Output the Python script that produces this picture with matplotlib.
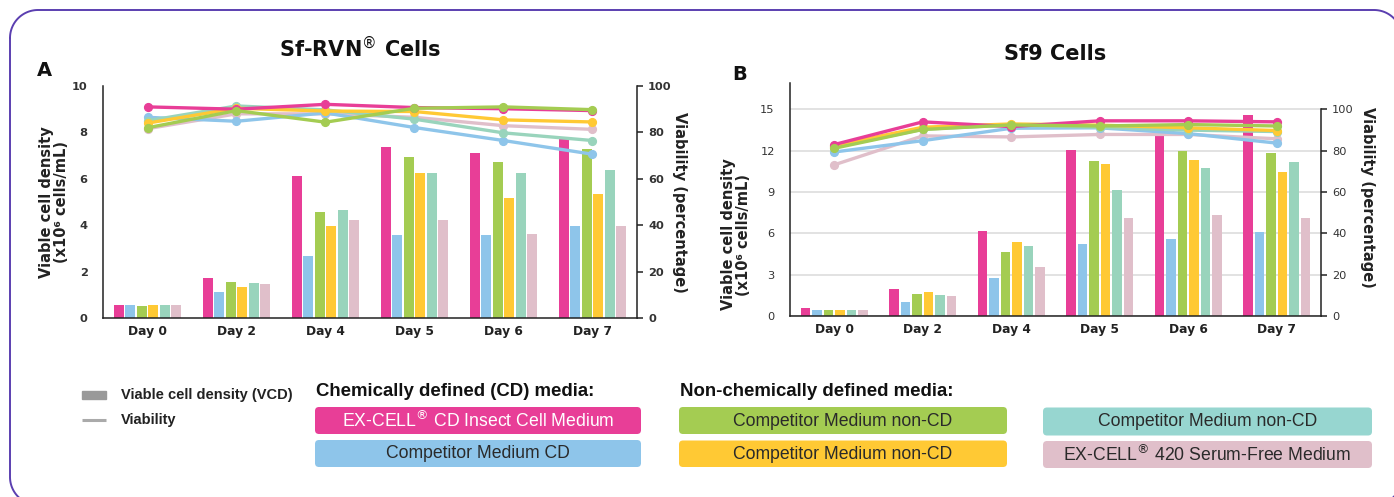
import matplotlib
matplotlib.use("Agg")
import matplotlib.pyplot as plt
import numpy as np
from matplotlib.patches import FancyBboxPatch, Rectangle

# ---------------- data ----------------
days = ['Day 0', 'Day 2', 'Day 4', 'Day 5', 'Day 6', 'Day 7']
series_names = ['EX-CELL$^{®}$ CD Insect Cell Medium', 'Competitor Medium CD',
                'Competitor Medium non-CD', 'Competitor Medium non-CD',
                'Competitor Medium non-CD', 'EX-CELL$^{®}$ 420 Serum-Free Medium']

# Panel A: Sf-RVN cells, viable cell density (x10^6 cells/mL)
a_vcd_pink = [0.55, 1.72, 6.13, 7.37, 7.10, 7.70]
a_vcd_blue = [0.55, 1.12, 2.68, 3.59, 3.57, 3.95]
a_vcd_green = [0.52, 1.56, 4.55, 6.92, 6.73, 7.29]
a_vcd_yellow = [0.55, 1.33, 3.96, 6.23, 5.18, 5.35]
a_vcd_teal = [0.55, 1.52, 4.65, 6.23, 6.23, 6.37]
a_vcd_mauve = [0.55, 1.45, 4.23, 4.23, 3.62, 3.95]
# Panel A viability (%)
a_via_pink = [91.0, 90.0, 92.1, 90.7, 90.2, 89.4]
a_via_blue = [86.5, 84.8, 88.4, 82.1, 76.5, 70.6]
a_via_green = [82.0, 89.4, 84.4, 90.4, 91.0, 89.8]
a_via_yellow = [84.0, 90.4, 89.2, 89.0, 85.4, 84.5]
a_via_teal = [85.0, 91.4, 89.7, 85.7, 79.8, 76.5]
a_via_mauve = [81.6, 88.0, 88.0, 86.5, 82.9, 81.3]

# Panel B: Sf9 cells
b_vcd_pink = [0.56, 1.95, 6.18, 12.02, 13.8, 14.6]
b_vcd_blue = [0.41, 1.00, 2.78, 5.22, 5.58, 6.07]
b_vcd_green = [0.46, 1.60, 4.63, 11.27, 11.97, 11.82]
b_vcd_yellow = [0.41, 1.73, 5.38, 11.07, 11.36, 10.46]
b_vcd_teal = [0.41, 1.51, 5.06, 9.18, 10.75, 11.21]
b_vcd_mauve = [0.46, 1.44, 3.58, 7.11, 7.35, 7.11]
b_via_pink = [83.0, 94.0, 91.7, 94.5, 94.5, 94.0]
b_via_blue = [79.4, 84.9, 90.9, 91.1, 88.3, 83.7]
b_via_green = [81.2, 90.3, 92.5, 92.0, 92.7, 92.0]
b_via_yellow = [82.5, 91.4, 93.0, 92.4, 91.1, 89.8]
b_via_teal = [81.7, 90.4, 92.5, 91.3, 90.0, 89.3]
b_via_mauve = [73.2, 87.2, 86.7, 87.9, 87.9, 85.8]

a_left_ticks = [0, 2, 4, 6, 8, 10]
a_right_ticks = [0, 20, 40, 60, 80, 100]
b_left_ticks = [0, 3, 6, 9, 12, 15]
b_right_ticks = [0, 20, 40, 60, 80, 100]

# ---------------- style ----------------
colors = ['#E83E97', '#8EC5EA', '#A4CC52', '#FFC934', '#99D4BC', '#E0BFCA']
box_colors = ['#E83E97', '#8EC5EA', '#A4CC52', '#FFC934', '#97D6D0', '#E0BFCA']
LEG_FONT = ['Liberation Sans', 'DejaVu Sans']
TXT = '#222222'

fig = plt.figure(figsize=(13.94, 4.97), dpi=100)

def panel(rect, vcd, via, ylim_l, lticks, ylim_r, rticks, grid, tick_bold, lab_y_l, lab_y_r, lab_x_l, lab_x_r):
    ax = fig.add_axes(rect)
    x = np.arange(len(days))
    slot, bw = 0.130, 0.112
    for i, vals in enumerate(vcd):
        ax.bar(x + (i - 2.5) * slot, vals, width=bw, color=colors[i], zorder=2)
    ax.set_xlim(-0.5, len(days) - 0.5)
    ax.set_ylim(*ylim_l)
    ax.set_yticks(lticks)
    ax.set_xticks(x)
    ax.set_xticklabels(days, fontsize=8.8, fontweight='bold', color=TXT)
    ax.tick_params(axis='x', length=0, pad=5)
    ax.tick_params(axis='y', length=0, pad=11, labelsize=8.2, labelcolor='#333333')
    for t in ax.get_yticklabels():
        t.set_fontweight('bold' if tick_bold else 'normal')
    for s in ['top', 'right']:
        ax.spines[s].set_visible(False)
    ax.spines['left'].set_color('#222222')
    ax.spines['bottom'].set_color('#222222')
    ax.spines['left'].set_linewidth(1.1)
    ax.spines['bottom'].set_linewidth(1.1)
    if grid:
        ax.yaxis.grid(True, color='#DDDDDD', linewidth=1.2, zorder=0)
        ax.set_axisbelow(True)
    ax.set_ylabel('Viable cell density\n(x10⁶ cells/mL)', fontsize=10.5, fontweight='bold',
                  color=TXT, linespacing=1.0)
    ax.yaxis.set_label_coords(lab_x_l, lab_y_l)

    ax2 = ax.twinx()
    order = [5, 1, 4, 3, 0, 2]
    for i in order:
        ax2.plot(x, via[i], color=colors[i], lw=2.4, marker='o', ms=5.6, zorder=3,
                 solid_capstyle='round')
    ax2.set_ylim(*ylim_r)
    ax2.set_yticks(rticks)
    ax2.tick_params(axis='y', length=4, width=1.1, color='#222222', pad=4, labelsize=8.2,
                    labelcolor='#333333')
    for t in ax2.get_yticklabels():
        t.set_fontweight('bold' if tick_bold else 'normal')
    for s in ['top', 'left', 'bottom']:
        ax2.spines[s].set_visible(False)
    ax2.spines['right'].set_color('#222222')
    ax2.spines['right'].set_linewidth(1.1)
    ax2.spines['right'].set_bounds(0, 100)
    ax2.set_ylabel('Viability (percentage)', fontsize=10.5, fontweight='bold', color=TXT,
                   rotation=-90, va='bottom')
    ax2.yaxis.set_label_coords(lab_x_r, lab_y_r)
    return ax, ax2

W, H = 1394, 497
# Panel A
rectA = [103 / W, 1 - 318 / H, (637 - 103) / W, (318 - 86) / H]
panel(rectA,
      [a_vcd_pink, a_vcd_blue, a_vcd_green, a_vcd_yellow, a_vcd_teal, a_vcd_mauve],
      [a_via_pink, a_via_blue, a_via_green, a_via_yellow, a_via_teal, a_via_mauve],
      (0, 10), a_left_ticks, (0, 100), a_right_ticks, False, True,
      0.5, 0.5, -0.063, 1.066)
# Panel B
rectB = [790 / W, 1 - 316 / H, (1321 - 790) / W, (316 - 83.3) / H]
panel(rectB,
      [b_vcd_pink, b_vcd_blue, b_vcd_green, b_vcd_yellow, b_vcd_teal, b_vcd_mauve],
      [b_via_pink, b_via_blue, b_via_green, b_via_yellow, b_via_teal, b_via_mauve],
      (0, 16.9), b_left_ticks, (0, 16.9 / 15 * 100), b_right_ticks, True, False,
      0.35, 0.51, -0.073, 1.074)

# ---------------- overlay: titles, frame, legend ----------------
ov = fig.add_axes([0, 0, 1, 1], zorder=-1)
ov.set_xlim(0, W)
ov.set_ylim(H, 0)
ov.axis('off')
ov.patch.set_alpha(0)

# rounded frame (decoration) built as a polyline
fx0, fy0, fx1, fy1, r = 10, 10, 1402, 505, 28
t = np.linspace(0, np.pi / 2, 30)
px = np.concatenate([fx0 + r - r * np.cos(t),
                     fx1 - r + r * np.sin(t),
                     fx1 - r + r * np.cos(t),
                     fx0 + r - r * np.sin(t),
                     [fx0]])
py = np.concatenate([fy0 + r - r * np.sin(t),
                     fy0 + r - r * np.cos(t),
                     fy1 - r + r * np.sin(t),
                     fy1 - r + r * np.cos(t),
                     [fy0 + r]])
ov.plot(px, py, color='#5B3FB0', lw=1.4, clip_on=True)

ov.text(360, 48, 'Sf-RVN$^{®}$ Cells', ha='center', va='center', fontsize=15, fontweight='bold', color='#111111')
ov.text(1055, 54, 'Sf9 Cells', ha='center', va='center', fontsize=15, fontweight='bold', color='#111111')
ov.text(44, 70, 'A', ha='center', va='center', fontsize=14, fontweight='bold', color='#111111')
ov.text(740, 75, 'B', ha='center', va='center', fontsize=14, fontweight='bold', color='#111111')

# legend marks
ov.add_patch(Rectangle((82, 391), 24, 7.5, color='#999999'))
ov.plot([82, 106], [420, 420], color='#AAAAAA', lw=2.2, solid_capstyle='butt')
ov.text(121, 395, 'Viable cell density (VCD)', va='center', ha='left', fontsize=10.5,
        fontweight='bold', color=TXT, family=LEG_FONT)
ov.text(121, 420, 'Viability', va='center', ha='left', fontsize=10.5,
        fontweight='bold', color=TXT, family=LEG_FONT)

ov.text(316, 391, 'Chemically defined (CD) media:', va='center', ha='left', fontsize=13.4,
        fontweight='bold', color='#111111', family=LEG_FONT)
ov.text(680, 391, 'Non-chemically defined media:', va='center', ha='left', fontsize=13.4,
        fontweight='bold', color='#111111', family=LEG_FONT)

boxes = [(315, 407, 326, 27, 0), (315, 440, 326, 27, 1),
         (679, 407, 328, 27, 2), (679, 440.5, 328, 26.5, 3),
         (1043, 407.5, 329, 28, 4), (1043, 441, 329, 27, 5)]
for bx, by, bwid, bh, i in boxes:
    ov.add_patch(FancyBboxPatch((bx, by), bwid, bh, boxstyle='round,pad=0,rounding_size=4',
                                fc=box_colors[i], ec='none'))
    tc = 'white' if i == 0 else '#2A2A2A'
    ov.text(bx + bwid / 2, by + bh / 2 + 0.5, series_names[i], ha='center', va='center',
            fontsize=12.7, color=tc, family=LEG_FONT)

fig.savefig('out.png', dpi=100)
